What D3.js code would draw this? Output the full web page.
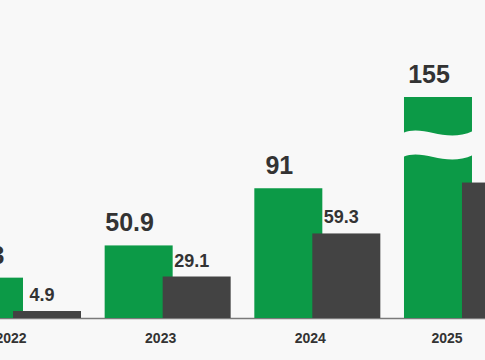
<!DOCTYPE html>
<html>
<head>
<meta charset="utf-8">
<script src="https://cdn.jsdelivr.net/npm/d3@7"></script>
<style>
  html, body { margin: 0; padding: 0; background: #f8f8f8; }
  svg { display: block; }
</style>
</head>
<body>
<svg id="chart" width="485" height="360"></svg>
<script>
const years = ["2022", "2023", "2024", "2025"];
const greenValues = [28.3, 50.9, 91, 155];
const greenLabels = ["28.3", "50.9", "91", "155"];
const darkValues = [4.9, 29.1, 59.3, 95];
const darkLabels = ["4.9", "29.1", "59.3", ""];

const W = 485, H = 360;
const svg = d3.select("#chart");
svg.append("rect").attr("width", W).attr("height", H).attr("fill", "#f8f8f8");

const baseY = 318;
const x = d3.scaleBand().domain(years).range([-45, 530]).paddingInner(0.158).paddingOuter(0);
const y = d3.scaleLinear().domain([0, 155]).range([baseY, 97]);

const barW = 68, darkOffset = 58;
const GREEN = "#0c9a47", DARK = "#434343", TEXT = "#333333";

// baseline
svg.append("line").attr("x1", 0).attr("x2", W).attr("y1", baseY + 0.5).attr("y2", baseY + 0.5)
  .attr("stroke", "#7a7a7a").attr("stroke-width", 1.5);

const data = years.map((yr, i) => ({ yr, i, g: greenValues[i], gl: greenLabels[i], d: darkValues[i], dl: darkLabels[i] }));

// green bars
svg.selectAll("rect.green").data(data).join("rect").attr("class", "green")
  .attr("x", d => x(d.yr)).attr("width", barW)
  .attr("y", d => y(d.g)).attr("height", d => baseY - y(d.g))
  .attr("fill", GREEN);

// break on last bar
const last = data[data.length - 1];
const bx = x(last.yr) - 1, bw = barW + 2;
const t1 = 133, t2 = 157;
const wave = (yy) => `C ${bx + bw * 0.3},${yy - 9} ${bx + bw * 0.6},${yy + 11} ${bx + bw},${yy - 2}`;
svg.append("path")
  .attr("d", `M ${bx},${t1} ${wave(t1)} L ${bx + bw},${t2 - 2} C ${bx + bw * 0.6},${t2 + 11} ${bx + bw * 0.3},${t2 - 9} ${bx},${t2} Z`)
  .attr("fill", "#f8f8f8");

// dark bars
svg.selectAll("rect.dark").data(data).join("rect").attr("class", "dark")
  .attr("x", d => x(d.yr) + darkOffset).attr("width", barW)
  .attr("y", d => y(d.d)).attr("height", d => baseY - y(d.d))
  .attr("fill", DARK);

// green labels
svg.selectAll("text.gl").data(data).join("text").attr("class", "gl")
  .attr("x", d => x(d.yr) + barW / 2 - 9)
  .attr("y", d => y(d.g) - 14)
  .attr("text-anchor", "middle")
  .attr("font-family", "'Liberation Sans', Arial, sans-serif")
  .attr("font-weight", "bold").attr("font-size", 25).attr("fill", TEXT)
  .text(d => d.gl);

// dark labels
svg.selectAll("text.dl").data(data.filter(d => d.dl)).join("text").attr("class", "dl")
  .attr("x", d => x(d.yr) + darkOffset + barW / 2 - 5)
  .attr("y", d => y(d.d) - 10)
  .attr("text-anchor", "middle")
  .attr("font-family", "'Liberation Sans', Arial, sans-serif")
  .attr("font-weight", "bold").attr("font-size", 18).attr("fill", TEXT)
  .text(d => d.dl);

// year labels
svg.selectAll("text.yr").data(data).join("text").attr("class", "yr")
  .attr("x", d => x(d.yr) + 56 - (d.i === data.length - 1 ? 13 : 0))
  .attr("y", 343)
  .attr("text-anchor", "middle")
  .attr("font-family", "'Liberation Sans', Arial, sans-serif")
  .attr("font-weight", "bold").attr("font-size", 14).attr("fill", TEXT)
  .text(d => d.yr);
</script>
</body>
</html>
